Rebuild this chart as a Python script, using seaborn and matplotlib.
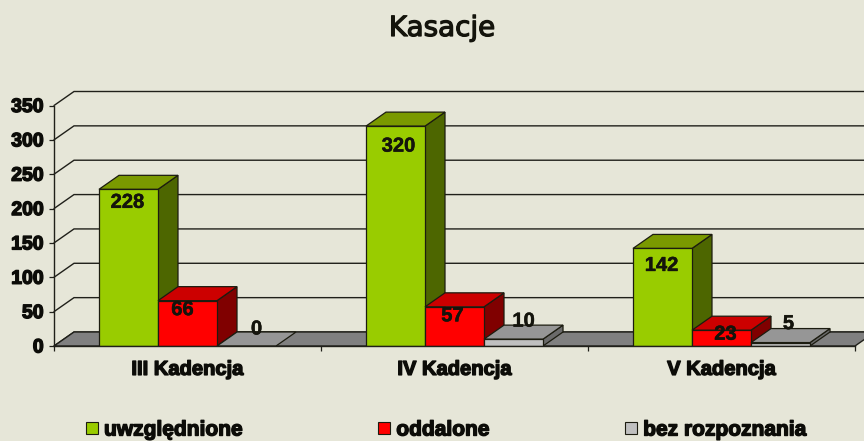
import pandas as pd
import seaborn as sns
import matplotlib.pyplot as plt
import matplotlib.patheffects as pe
from matplotlib.patches import Polygon, Rectangle

kadencje = ['III Kadencja', 'IV Kadencja', 'V Kadencja']
uwzglednione = [228, 320, 142]
oddalone = [66, 57, 23]
bez_rozpoznania = [0, 10, 5]
y_ticks = [0, 50, 100, 150, 200, 250, 300, 350]

BG = '#E6E6D8'
EDGE = '#1c1c10'
# front, top, side
colors = {
    'uwzględnione': ('#99CC00', '#7A9900', '#4D6600'),
    'oddalone': ('#FF0000', '#CC0000', '#800000'),
    'bez rozpoznania': ('#C0C0C0', '#969696', '#6A6A6A'),
}
# offset of the value labels in pixels from bar centre / bar top
label_off = {
    'uwzględnione': [(-1, -13), (3, -20), (-1, -17)],
    'oddalone': [(-5, -9), (-2, -9), (4, -4)],
    'bez rozpoznania': [(10, 17), (10, 18), (8, 19)],
}

df = pd.DataFrame({
    'kadencja': kadencje * 3,
    'typ': ['uwzględnione'] * 3 + ['oddalone'] * 3 + ['bez rozpoznania'] * 3,
    'liczba': uwzglednione + oddalone + bez_rozpoznania,
})

sns.set_theme(style='white')
plt.rcParams['font.family'] = ['Liberation Sans', 'DejaVu Sans']
px = 0.72  # points per pixel at dpi 100

fig = plt.figure(figsize=(8.64, 4.41), dpi=100, facecolor=BG)
ax = fig.add_axes([54 / 864, 95 / 441, 801 / 864, 240.5 / 441], facecolor='none')

sns.barplot(data=df, x='kadencja', y='liczba', hue='typ', order=kadencje,
            hue_order=list(colors), palette={k: v[0] for k, v in colors.items()},
            width=0.663, gap=0, edgecolor=EDGE, linewidth=0.9, saturation=1,
            legend=False, ax=ax)
ax.set_xlim(-0.5, 2.5)
ax.set_ylim(0, 350)
ax.set_xlabel('')
ax.set_ylabel('')
ax.set_yticks(y_ticks)

# depth of the fake 3D in data units
dx = 20 / 267
dy = 14 / (240.5 / 350)

# back wall grid + diagonals
for t in y_ticks:
    ax.plot([-0.5, -0.5 + dx, 2.5 + dx], [t, t + dy, t + dy], color='#20201a', lw=1.0,
            clip_on=False, zorder=1, solid_joinstyle='miter')

# floor
ax.add_patch(Polygon([(-0.5, 0), (-0.5 + dx, dy), (2.5 + dx, dy), (2.5, 0)], closed=True,
                     facecolor='#808080', edgecolor='#20201a', lw=1.0, clip_on=False, zorder=1.5))

# 3D faces, left to right so each bar covers the previous side
bars = []
for name, cont in zip(colors, ax.containers):
    for i, bar in enumerate(cont):
        bars.append((bar.get_x(), bar, name, i))
bars.sort(key=lambda b: b[0])

label_stroke = [pe.withStroke(linewidth=0.35, foreground='#14140c')]
z = 2
for x0, bar, name, i in bars:
    w = bar.get_width()
    h = bar.get_height()
    front, top, side = colors[name]
    if h > 0:
        ax.add_patch(Polygon([(x0 + w, 0), (x0 + w + dx, dy), (x0 + w + dx, h + dy), (x0 + w, h)],
                             closed=True, facecolor=side, edgecolor=EDGE, lw=0.9, clip_on=False, zorder=z))
    ax.add_patch(Polygon([(x0, h), (x0 + dx, h + dy), (x0 + w + dx, h + dy), (x0 + w, h)],
                         closed=True, facecolor=top, edgecolor=EDGE, lw=0.9, clip_on=False, zorder=z + 0.1))
    bar.set_zorder(z + 0.2)
    off = label_off[name][i]
    ax.annotate(str(int(h)), (x0 + w / 2, h), xytext=(off[0] * px, off[1] * px),
                textcoords='offset points', ha='center', va='center',
                fontsize=14.5, fontweight='bold', color='#14140c', zorder=50,
                path_effects=label_stroke)
    z += 1

# axes
sns.despine(ax=ax, top=True, right=True)
for s in ['left', 'bottom']:
    ax.spines[s].set_color('#20201a')
    ax.spines[s].set_linewidth(1.0)
    ax.spines[s].set_zorder(40)
ax.set_xticks([-0.5, 0.5, 1.5, 2.5], minor=True)
ax.tick_params(axis='x', which='minor', length=3.5, width=0.9, color='#20201a', bottom=True)
ax.tick_params(axis='x', which='major', length=0, pad=10)
ax.tick_params(axis='y', length=3.5, width=0.9, color='#20201a', left=True, pad=4)
stroke = [pe.withStroke(linewidth=1.0, foreground='#0c0c08')]
for lab in ax.get_yticklabels():
    lab.set(fontsize=14, fontweight='bold', color='#0c0c08', path_effects=stroke)
for lab in ax.get_xticklabels():
    lab.set(fontsize=14.5, fontweight='bold', color='#0c0c08', path_effects=stroke)

# legend
handles = [Rectangle((0, 0), 1, 1, facecolor=v[0], edgecolor=EDGE, lw=0.8) for v in colors.values()]
leg = fig.legend(handles, list(colors), ncol=3, loc='center', bbox_to_anchor=(446.5 / 864, 11 / 441),
                 frameon=False, fontsize=15.1, handlelength=0.55, handleheight=0.55,
                 handletextpad=0.3, columnspacing=6.47, borderpad=0, borderaxespad=0)
for t in leg.get_texts():
    t.set(fontweight='bold', color='#0c0c08', path_effects=stroke)

fig.text(442 / 864, 413 / 441, 'Kasacje', ha='center', va='center', fontsize=20,
         family='DejaVu Sans', color='#14140c',
         path_effects=[pe.withStroke(linewidth=0.9, foreground='#14140c')])

fig.savefig('out.png', dpi=100, facecolor=BG)
